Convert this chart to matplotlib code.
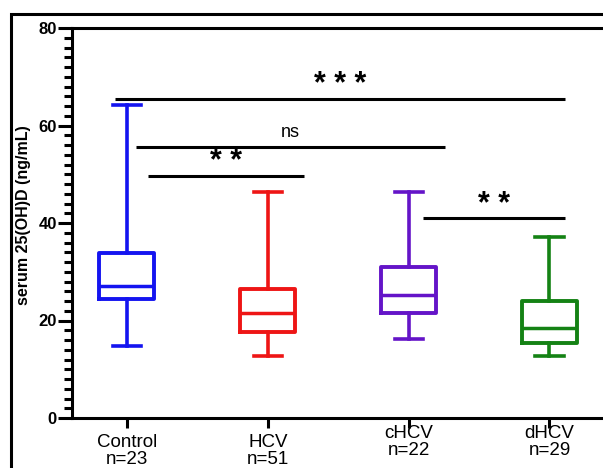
import matplotlib
matplotlib.use("Agg")
import matplotlib.pyplot as plt
from matplotlib.patches import Rectangle
from matplotlib.ticker import MultipleLocator

plt.rcParams["font.family"] = ["Liberation Sans", "DejaVu Sans"]

groups = ["Control", "HCV", "cHCV", "dHCV"]
n_sizes = [23, 51, 22, 29]
whisker_low = [14.7, 12.7, 16.2, 12.7]
q1 = [24.4, 17.7, 21.5, 15.4]
median = [27.1, 21.6, 25.3, 18.5]
q3 = [33.9, 26.5, 31.0, 24.0]
whisker_high = [64.3, 46.4, 46.4, 37.2]
colors = ["#1414f0", "#ee1515", "#6414c8", "#148214"]

# significance brackets
sig_from = [0, 0, 0, 2]
sig_to = [1, 2, 3, 3]
sig_y = [49.7, 55.6, 65.5, 41.0]
sig_text = ["* *", "ns", "* * *", "* *"]
sig_start_off = [0.15, 0.065, -0.085, 0.105]
sig_end_off = [0.255, 0.255, 0.11, 0.11]

fig = plt.figure(figsize=(6.03, 4.68), dpi=100)
ax = fig.add_axes([72 / 603, 1 - 418 / 468, 1 - 72 / 603, 390 / 468])

stats = []
for i in range(len(groups)):
    stats.append(dict(med=median[i], q1=q1[i], q3=q3[i],
                      whislo=whisker_low[i], whishi=whisker_high[i], fliers=[]))

bp = ax.bxp(stats, positions=range(len(groups)), widths=0.39, capwidths=0.2,
            showfliers=False)
for i, c in enumerate(colors):
    bp["boxes"][i].set(color=c, linewidth=2.8)
    bp["medians"][i].set(color=c, linewidth=2.5)
    for k in (2 * i, 2 * i + 1):
        bp["whiskers"][k].set(color=c, linewidth=2.6)
        bp["caps"][k].set(color=c, linewidth=2.6)

for a, b, y, t, s0, s1 in zip(sig_from, sig_to, sig_y, sig_text, sig_start_off, sig_end_off):
    x0 = a + s0
    x1 = b + s1
    ax.plot([x0, x1], [y, y], color="black", linewidth=2.2, solid_capstyle="butt")
    if t == "ns":
        ax.text((x0 + x1) / 2, y + 1.3, t, ha="center", va="bottom", fontsize=13)
    else:
        ax.text((x0 + x1) / 2, y - 0.3, t, ha="center", va="bottom", fontsize=22,
                fontweight="bold")

ax.set_xlim(-0.39, 3.38)
ax.set_ylim(0, 80)
ax.yaxis.set_major_locator(MultipleLocator(20))
ax.yaxis.set_minor_locator(MultipleLocator(2))
ax.set_xticks(range(len(groups)))
ax.set_xticklabels([])
for i, (g, n) in enumerate(zip(groups, n_sizes)):
    ytxt = -0.04 if i < 2 else -0.017
    ax.text(i, ytxt, f"{g}\nn={n}", transform=ax.get_xaxis_transform(),
            ha="center", va="top", fontsize=13.5, linespacing=1.0)

ax.tick_params(axis="y", which="major", length=10, width=2.2, pad=1, labelsize=12)
ax.tick_params(axis="y", which="minor", length=6, width=2.2)
ax.tick_params(axis="x", which="major", length=7, width=2.2)
for lab in ax.get_yticklabels():
    lab.set_fontweight("bold")

ax.spines["right"].set_visible(False)
for s in ("left", "bottom", "top"):
    ax.spines[s].set_linewidth(2.2)

ax.set_ylabel("serum 25(OH)D (ng/mL)", fontsize=11.5, fontweight="bold", labelpad=4)
ax.yaxis.set_label_coords(-0.078, 0.52)

# outer frame of the panel
fig.add_artist(Rectangle((11 / 603, -0.2), 1.2, 1.2 - 14 / 468, transform=fig.transFigure,
                         fill=False, linewidth=2.2, edgecolor="black"))

fig.savefig("out.png", dpi=100)
